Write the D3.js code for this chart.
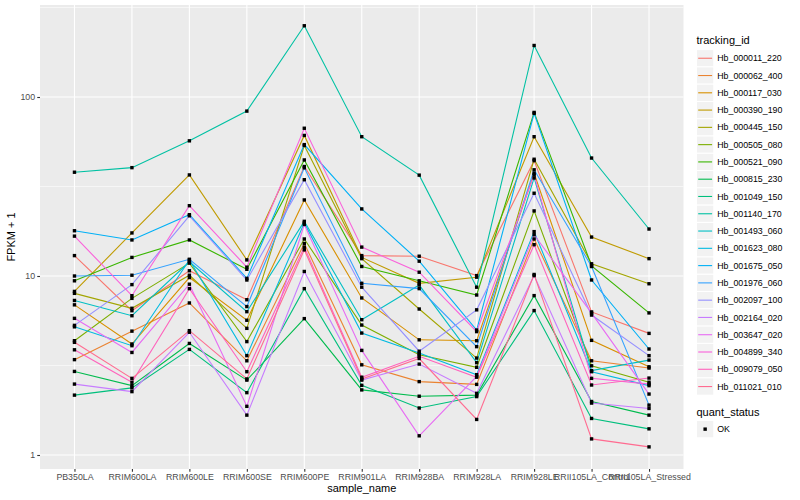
<!DOCTYPE html>
<html>
<head>
<meta charset="utf-8">
<script src="https://cdn.jsdelivr.net/npm/d3@7"></script>
<style>
  html, body { margin: 0; padding: 0; background: #fff; }
  text { font-family: "Liberation Sans", Arial, Helvetica, sans-serif; }
</style>
</head>
<body>
<svg id="chart" width="800" height="500"></svg>
<script>
// ---------------- data ----------------
const categories = ["PB350LA","RRIM600LA","RRIM600LE","RRIM600SE","RRIM600PE","RRIM901LA",
  "RRIM928BA","RRIM928LA","RRIM928LE","RRII105LA_Control","RRII105LA_Stressed"];

const trackingIds = ["Hb_000011_220","Hb_000062_400","Hb_000117_030","Hb_000390_190","Hb_000445_150",
  "Hb_000505_080","Hb_000521_090","Hb_000815_230","Hb_001049_150","Hb_001140_170",
  "Hb_001493_060","Hb_001623_080","Hb_001675_050","Hb_001976_060","Hb_002097_100",
  "Hb_002164_020","Hb_003647_020","Hb_004899_340","Hb_009079_050","Hb_011021_010"];

// FPKM + 1 per tracking id, one value per sample (same order as categories)
const fpkmPlusOne = [
  [13.0, 6.4, 10.7, 7.37, 40.9, 13.0, 12.9, 10.05, 44.1, 6.3, 4.78],
  [3.41, 4.92, 7.07, 3.36, 15.2, 3.19, 2.57, 2.48, 16.1, 3.36, 3.06],
  [6.9, 4.17, 9.8, 5.66, 26.6, 7.54, 4.4, 4.35, 37.5, 4.37, 3.11],
  [8.2, 17.4, 36.7, 12.3, 61, 12.7, 9.1, 9.85, 60, 16.5, 12.5],
  [8.0, 6.6, 10.1, 5.1, 53.6, 12.5, 6.54, 3.48, 44.9, 11.7, 9.05],
  [4.35, 7.5, 11.8, 4.30, 16.1, 5.32, 3.63, 3.09, 23.1, 3.15, 2.55],
  [9.4, 12.7, 15.9, 10.9, 44.5, 11.3, 9.4, 7.83, 82, 11.4, 6.22],
  [2.93, 2.44, 4.2, 2.62, 5.78, 2.31, 2.13, 2.16, 7.77, 1.99, 1.67],
  [2.16, 2.37, 3.89, 2.23, 8.5, 2.45, 1.83, 2.12, 6.41, 1.6, 1.40],
  [38, 40.3, 56.9, 83.4, 250, 60, 36.6, 8.66, 194, 45.6, 18.3],
  [7.3, 6.0, 12.0, 6.32, 20.2, 5.7, 8.9, 3.28, 35.3, 2.96, 3.39],
  [5.2, 4.08, 12.3, 3.59, 19.8, 4.80, 3.71, 2.81, 17.7, 2.92, 2.44],
  [17.9, 15.9, 22.0, 9.7, 54.2, 23.7, 12.1, 4.99, 81, 9.5, 3.91],
  [10, 10.1, 12.4, 6.75, 40.2, 9.1, 8.5, 4.03, 39.2, 11.3, 1.90],
  [5.3, 8.95, 21.7, 9.5, 34.5, 8.66, 3.8, 6.47, 29, 6.05, 3.59],
  [2.49, 2.26, 4.85, 1.67, 10.6, 2.62, 3.22, 2.21, 10.05, 1.95, 1.82],
  [5.8, 3.74, 9.0, 1.87, 19.4, 3.84, 1.28, 2.75, 17.0, 6.2, 2.19],
  [16.7, 7.76, 24.7, 11.2, 66.9, 14.5, 10.5, 4.89, 36.7, 2.68, 2.49],
  [3.87, 2.55, 8.5, 2.92, 14.5, 2.72, 3.56, 2.72, 14.96, 2.46, 2.69],
  [4.26, 2.68, 4.95, 2.66, 14.0, 2.66, 3.46, 1.58, 10.2, 1.23, 1.11]
];

const yTicks = [1, 10, 100];
const yMinor = [Math.pow(10, 0.5), Math.pow(10, 1.5), Math.pow(10, 2.5)];
const quantStatus = ["OK"];

// ggplot2 default hue palette for 20 groups
const palette = ["#F8766D","#EA8331","#D89000","#C09B00","#A3A500","#7CAE00","#39B600","#00BB4E",
  "#00BF7D","#00C1A3","#00BFC4","#00BAE0","#00B0F6","#35A2FF","#9590FF","#C77CFF","#E76BF3",
  "#FA62DB","#FF62BC","#FF6C91"];

// ---------------- layout ----------------
const svg = d3.select("#chart");
const panel = {left: 40, right: 683.5, top: 5, bottom: 469};

const x = d3.scalePoint().domain(categories).range([panel.left, panel.right]).padding(0.6);
const y = d3.scaleLog()
  .domain([Math.pow(10, -14 / 179), Math.pow(10, 450 / 179)])
  .range([panel.bottom, panel.top]);

svg.append("rect").attr("width", 800).attr("height", 500).attr("fill", "#ffffff");

// panel background
svg.append("rect")
  .attr("x", panel.left).attr("y", panel.top)
  .attr("width", panel.right - panel.left).attr("height", panel.bottom - panel.top)
  .attr("fill", "#EBEBEB");

const grid = svg.append("g");
grid.selectAll(".minor").data(yMinor).enter().append("line")
  .attr("x1", panel.left).attr("x2", panel.right)
  .attr("y1", d => y(d)).attr("y2", d => y(d))
  .attr("stroke", "#ffffff").attr("stroke-width", 0.55);
grid.selectAll(".majory").data(yTicks).enter().append("line")
  .attr("x1", panel.left).attr("x2", panel.right)
  .attr("y1", d => y(d)).attr("y2", d => y(d))
  .attr("stroke", "#ffffff").attr("stroke-width", 1.1);
grid.selectAll(".majorx").data(categories).enter().append("line")
  .attr("x1", d => x(d)).attr("x2", d => x(d))
  .attr("y1", panel.top).attr("y2", panel.bottom)
  .attr("stroke", "#ffffff").attr("stroke-width", 1.1);

// lines
const lineGen = d3.line()
  .x((d, i) => x(categories[i]))
  .y(d => y(d));

const series = trackingIds.map((id, k) => ({id, color: palette[k], values: fpkmPlusOne[k]}));

svg.append("g").selectAll("path").data(series).enter().append("path")
  .attr("d", d => lineGen(d.values))
  .attr("fill", "none")
  .attr("stroke", d => d.color)
  .attr("stroke-width", 1.1);

// points
const pts = [];
series.forEach(s => s.values.forEach((v, i) => pts.push({c: categories[i], v})));
const ps = 3.4;
svg.append("g").selectAll("rect").data(pts).enter().append("rect")
  .attr("x", d => x(d.c) - ps / 2).attr("y", d => y(d.v) - ps / 2)
  .attr("width", ps).attr("height", ps).attr("fill", "#000");

// axes
const yAxis = svg.append("g").attr("transform", `translate(${panel.left},0)`)
  .call(d3.axisLeft(y).tickValues(yTicks).tickFormat(d3.format("d")).tickSizeOuter(0).tickSize(2.75).tickPadding(2.2));
yAxis.select(".domain").remove();
yAxis.selectAll("line").attr("stroke", "#333333").attr("stroke-width", 1.1);
yAxis.selectAll("text").attr("fill", "#4D4D4D").style("font-size", "8.8px");

const xAxis = svg.append("g").attr("transform", `translate(0,${panel.bottom})`)
  .call(d3.axisBottom(x).tickSizeOuter(0).tickSize(2.75).tickPadding(2.2));
xAxis.select(".domain").remove();
xAxis.selectAll("line").attr("stroke", "#333333").attr("stroke-width", 1.1);
xAxis.selectAll("text").attr("fill", "#4D4D4D").style("font-size", "8.8px");

// axis titles
svg.append("text")
  .attr("x", (panel.left + panel.right) / 2).attr("y", 492)
  .attr("text-anchor", "middle").style("font-size", "11px").attr("fill", "#000")
  .text("sample_name");
svg.append("text")
  .attr("transform", `translate(15,${(panel.top + panel.bottom) / 2}) rotate(-90)`)
  .attr("text-anchor", "middle").style("font-size", "11px").attr("fill", "#000")
  .text("FPKM + 1");

// legend: tracking_id
const lg = svg.append("g");
const keyX = 696.5, keyW = 17.28, key0 = 49.6;
lg.append("text").attr("x", keyX).attr("y", 43.5).style("font-size", "11px").attr("fill", "#000").text("tracking_id");
const items = lg.selectAll("g.item").data(series).enter().append("g")
  .attr("transform", (d, i) => `translate(${keyX},${key0 + i * keyW})`);
items.append("rect").attr("width", keyW).attr("height", keyW)
  .attr("fill", "#F2F2F2").attr("stroke", "#ffffff").attr("stroke-width", 1);
items.append("line").attr("x1", 1.7).attr("x2", keyW - 1.7)
  .attr("y1", keyW / 2).attr("y2", keyW / 2)
  .attr("stroke", d => d.color).attr("stroke-width", 1.1);
items.append("text").attr("x", keyW + 3.5).attr("y", keyW / 2 + 3.1)
  .style("font-size", "8.8px").attr("fill", "#000").text(d => d.id);

// legend: quant_status
const q0 = 420.5;
lg.append("text").attr("x", keyX).attr("y", 416).style("font-size", "11px").attr("fill", "#000").text("quant_status");
const qi = lg.selectAll("g.q").data(quantStatus).enter().append("g")
  .attr("transform", (d, i) => `translate(${keyX},${q0 + i * keyW})`);
qi.append("rect").attr("width", keyW).attr("height", keyW)
  .attr("fill", "#F2F2F2").attr("stroke", "#ffffff").attr("stroke-width", 1);
qi.append("rect").attr("x", keyW / 2 - ps / 2).attr("y", keyW / 2 - ps / 2)
  .attr("width", ps).attr("height", ps).attr("fill", "#000");
qi.append("text").attr("x", keyW + 3.5).attr("y", keyW / 2 + 3.1)
  .style("font-size", "8.8px").attr("fill", "#000").text(d => d);
</script>
</body>
</html>
